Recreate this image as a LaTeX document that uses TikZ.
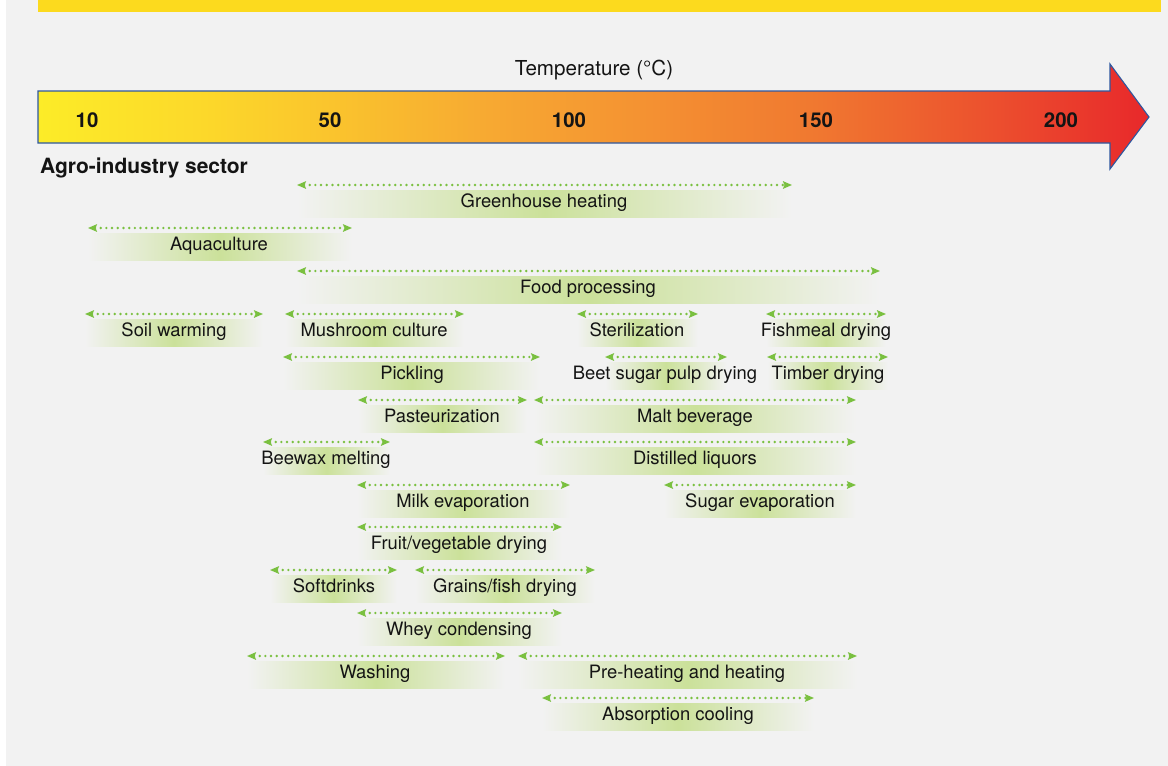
\documentclass[tikz,border=0pt]{standalone}
\usepackage{fontspec}
\setmainfont{TeX Gyre Heros}
\usetikzlibrary{arrows.meta}
\definecolor{bg}{RGB}{242,242,242}
\definecolor{topbar}{RGB}{252,218,30}
\definecolor{bandgreen}{RGB}{203,225,154}
\definecolor{dotgreen}{RGB}{122,192,64}
\definecolor{txtcol}{RGB}{20,20,20}
\definecolor{arrowborder}{RGB}{46,88,160}
\definecolor{ta}{RGB}{252,236,40}
\definecolor{tb}{RGB}{252,216,42}
\definecolor{tc}{RGB}{250,196,45}
\definecolor{td}{RGB}{247,170,50}
\definecolor{te}{RGB}{244,145,50}
\definecolor{tf}{RGB}{240,120,48}
\definecolor{tg}{RGB}{236,82,46}
\definecolor{th}{RGB}{232,40,43}
\pgfdeclarehorizontalshading{tempshade}{100bp}{color(0bp)=(ta); color(25bp)=(ta); color(32.5bp)=(tb); color(38.2bp)=(tc); color(45bp)=(td); color(52.5bp)=(te); color(60bp)=(tf); color(67.5bp)=(tg); color(75bp)=(th); color(100bp)=(th)}
\newcommand\rangeitem[6]{%
  \fill[band] (#2,#4+5) rectangle (#3,#4+32);
  \coordinate (#1-l) at (#2,#4);
  \coordinate (#1-r) at (#3,#4);
  \draw[rangearrow] (#1-l) -- (#1-r);
  \node[lbl] (#1) at (#5,#4+22.5) {#6};}
\begin{document}
\begin{tikzpicture}[x=1pt,y=-1pt,
  band/.style={left color=bg, right color=bg, middle color=bandgreen},
  rangearrow/.style={dotgreen, line width=2.7pt, line cap=round, dash pattern=on 0pt off 5.7pt,
     {Stealth[length=9pt,width=7.5pt,inset=1.5pt]}-{Stealth[length=9pt,width=7.5pt,inset=1.5pt]}},
  lbl/.style={font=\fontsize{18.4}{22}\selectfont, text=txtcol, inner sep=0pt, anchor=base},
  num/.style={font=\fontsize{20.4}{24}\selectfont\bfseries, text=txtcol, inner sep=0pt, anchor=base}]
\useasboundingbox (0,0) rectangle (1168,766);
\fill[white] (0,0) rectangle (1168,766);
\fill[bg] (6,0) rectangle (1168,766);
\fill[topbar] (38,0) rectangle (1161,12);
% temperature arrow
\path[shading=tempshade, draw=arrowborder, line width=1.1pt, line join=miter]
  (38,91) -- (1110,91) -- (1110,64) -- (1149,117) -- (1110,169) -- (1110,143) -- (38,143) -- cycle;
\node[font=\fontsize{20.6}{24}\selectfont, text=txtcol, inner sep=0pt, anchor=base] (ttl) at (594,75) {Temperature (°C)};
\node[num] (n10) at (87,127) {10};
\node[num] (n50) at (330,127) {50};
\node[num] (n100) at (569,127) {100};
\node[num] (n150) at (816,127) {150};
\node[num] (n200) at (1061,127) {200};
\node[font=\fontsize{21}{24}\selectfont\bfseries, text=txtcol, inner sep=0pt, anchor=base west] (sector) at (40,173) {Agro-industry sector};
% ranges
\rangeitem{gh}{297}{792}{185}{544}{Greenhouse heating}
\rangeitem{aq}{88}{352}{228}{219}{Aquaculture}
\rangeitem{fp}{297}{880}{271}{588}{Food processing}
\rangeitem{sw}{85}{263}{314}{174}{Soil warming}
\rangeitem{mc}{285}{464}{314}{374}{Mushroom culture}
\rangeitem{st}{577}{698}{314}{637}{Sterilization}
\rangeitem{fm}{766}{886}{314}{826}{Fishmeal drying}
\rangeitem{pk}{283}{540}{357}{412}{Pickling}
\rangeitem{bs}{605}{727}{357}{665}{Beet sugar pulp drying}
\rangeitem{td}{767}{888}{357}{828}{Timber drying}
\rangeitem{pa}{358}{527}{400}{442}{Pasteurization}
\rangeitem{mb}{534}{856}{400}{695}{Malt beverage}
\rangeitem{bw}{263}{390}{442}{326}{Beewax melting}
\rangeitem{dl}{534}{856}{442}{695}{Distilled liquors}
\rangeitem{me}{357}{570}{485}{463}{Milk evaporation}
\rangeitem{se}{664}{856}{485}{760}{Sugar evaporation}
\rangeitem{fv}{357}{562}{527}{459}{Fruit/vegetable drying}
\rangeitem{sd}{270}{397}{570}{334}{Softdrinks}
\rangeitem{gf}{415}{595}{570}{505}{Grains/fish drying}
\rangeitem{wc}{357}{562}{613}{459}{Whey condensing}
\rangeitem{wa}{247}{505}{656}{375}{Washing}
\rangeitem{ph}{518}{857}{656}{687}{Pre-heating and heating}
\rangeitem{ac}{542}{814}{698}{678}{Absorption cooling}
\end{tikzpicture}
\end{document}
